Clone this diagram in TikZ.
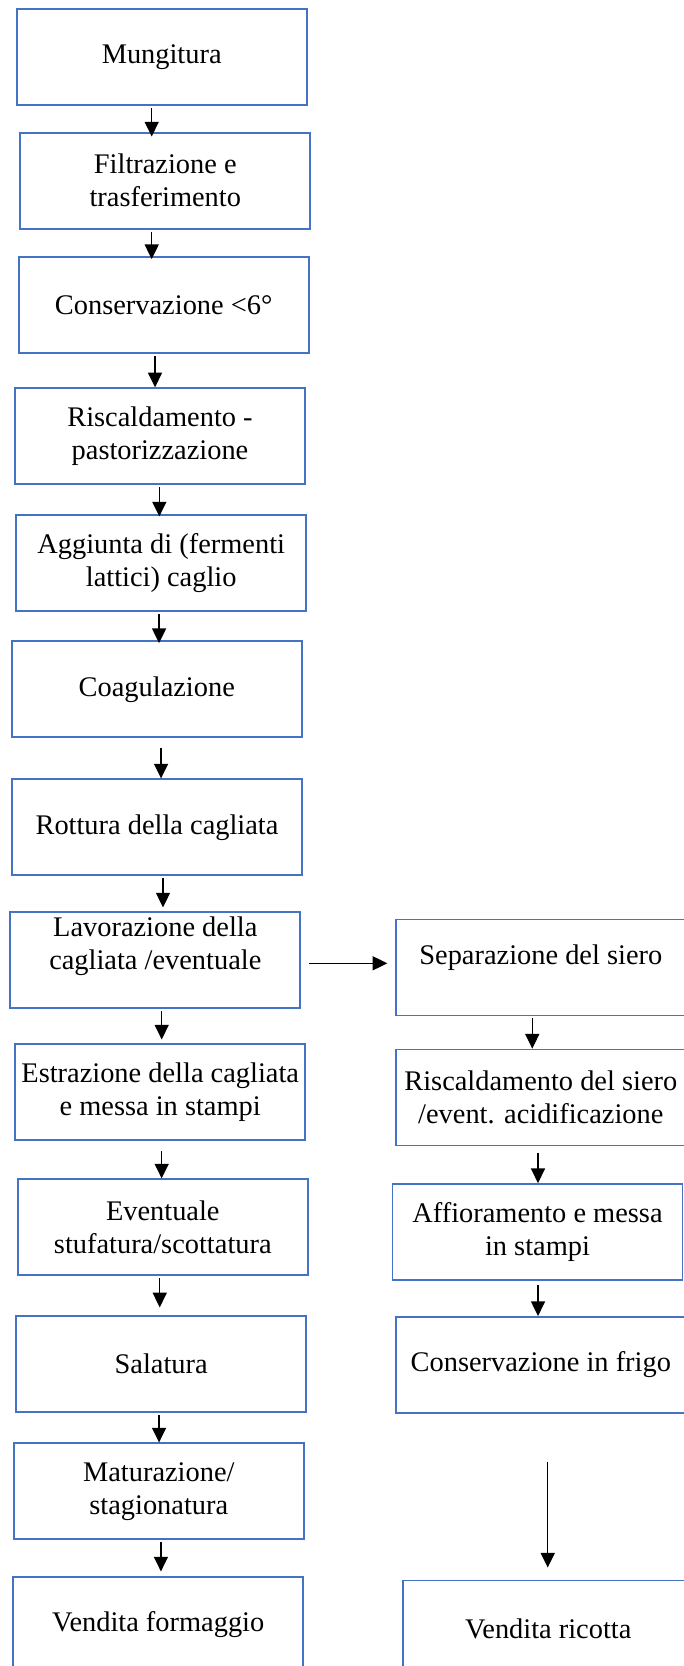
\documentclass[tikz,border=0pt]{standalone}
\usepackage{fontspec}
\setmainfont{Liberation Serif}
\usetikzlibrary{arrows.meta}
\definecolor{boxblue}{RGB}{68,114,196}

\begin{document}
\begin{tikzpicture}[x=0.75pt,y=-0.75pt,every node/.style={font=\fontsize{21.3}{24.8}\selectfont},stepbox/.style={draw=boxblue,line width=1.3pt,minimum width=217.5pt,minimum height=72pt,align=center,inner sep=2pt},flow/.style={-{Triangle[length=11pt,width=10.5pt]},line width=1.1pt,shorten <=1.5pt}]
\clip (0,0) rectangle (684,1666);
% cheese line
\node[stepbox] (mung) at (161.7,57.2) {Mungitura};
\node[stepbox] (filt) at (165.3,180.7) {Filtrazione e\\trasferimento};
\node[stepbox] (cons) at (163.7,305.3) {Conservazione <6°};
\node[stepbox] (risc) at (160,436.2) {Riscaldamento -\\pastorizzazione};
\node[stepbox] (agg) at (161.2,563.3) {Aggiunta di (fermenti\\lattici) caglio};
\node[stepbox] (coag) at (156.8,689.3) {Coagulazione};
\node[stepbox] (rott) at (157,827.3) {Rottura della cagliata};
\node[stepbox,text depth=25.5pt] (lav) at (155.3,960.3) {Lavorazione della\\cagliata /eventuale};
\node[stepbox] (estr) at (160.2,1091.7) {Estrazione della cagliata\\e messa in stampi};
\node[stepbox] (event) at (162.8,1227.3) {Eventuale\\stufatura/scottatura};
\node[stepbox] (sal) at (161.2,1364) {Salatura};
\node[stepbox] (mat) at (158.8,1491.3) {Maturazione/\\stagionatura};
\node[stepbox] (vendf) at (158.2,1625) {Vendita formaggio};
% whey line
\node[stepbox,text depth=19.6pt] (sep) at (540.8,967.5) {Separazione del siero};
\node[stepbox] (riscs) at (540.8,1097.5) {Riscaldamento del siero\\/event. acidificazione};
\node[stepbox] (affi) at (537.5,1232) {Affioramento e messa\\in stampi};
\node[stepbox] (consf) at (540.8,1364.9) {Conservazione in frigo};
\node[stepbox] (vendr) at (548.2,1628.4) {Vendita ricotta};
% arrows
\draw[flow,shorten >=-3.5pt] ([xshift=-7.5pt]mung.south) -- ([xshift=-7.5pt]mung.south |- filt.north);
\draw[flow,shorten >=-2pt] ([xshift=-10.2pt]filt.south) -- ([xshift=-10.2pt]filt.south |- cons.north);
\draw[flow] ([xshift=-6.5pt]cons.south) -- ([xshift=-6.5pt]cons.south |- risc.north);
\draw[flow,shorten >=-1.5pt] ([xshift=-0.5pt]risc.south) -- ([xshift=-0.5pt]risc.south |- agg.north);
\draw[flow,shorten >=-2pt] ([xshift=-1.6pt]agg.south) -- ([xshift=-1.6pt]agg.south |- coag.north);
\draw[flow,shorten <=7pt] ([xshift=3.2pt]coag.south) -- ([xshift=3.2pt]coag.south |- rott.north);
\draw[flow,shorten >=3pt] ([xshift=4.5pt]rott.south) -- ([xshift=4.5pt]rott.south |- lav.north);
\draw[flow,shorten >=2.5pt] ([xshift=4.8pt]lav.south) -- ([xshift=4.8pt]lav.south |- estr.north);
\draw[flow,shorten <=8pt] ([xshift=1.1pt]estr.south) -- ([xshift=1.1pt]estr.south |- event.north);
\draw[flow,shorten >=5.8pt] ([xshift=-2.3pt]event.south) -- ([xshift=-2.3pt]event.south |- sal.north);
\draw[flow] ([xshift=-1.6pt]sal.south) -- ([xshift=-1.6pt]sal.south |- mat.north);
\draw[flow,shorten >=3.5pt] ([xshift=1.6pt]mat.south) -- ([xshift=1.6pt]mat.south |- vendf.north);
\draw[flow,shorten <=6pt,shorten >=5.7pt] ([yshift=-2.25pt]lav.east) -- ([yshift=-2.25pt]lav.east -| sep.west);
\draw[flow] ([xshift=-6.4pt]sep.south) -- ([xshift=-6.4pt]sep.south |- riscs.north);
\draw[flow,shorten <=4.7pt] ([xshift=-2.1pt]riscs.south) -- ([xshift=-2.1pt]riscs.south |- affi.north);
\draw[flow,shorten <=3.2pt] ([xshift=0.4pt]affi.south) -- ([xshift=0.4pt]affi.south |- consf.north);
\draw[flow,shorten <=36pt,shorten >=9pt] ([xshift=5.2pt]consf.south) -- ([xshift=5.2pt]consf.south |- vendr.north);
\end{tikzpicture}
\end{document}
